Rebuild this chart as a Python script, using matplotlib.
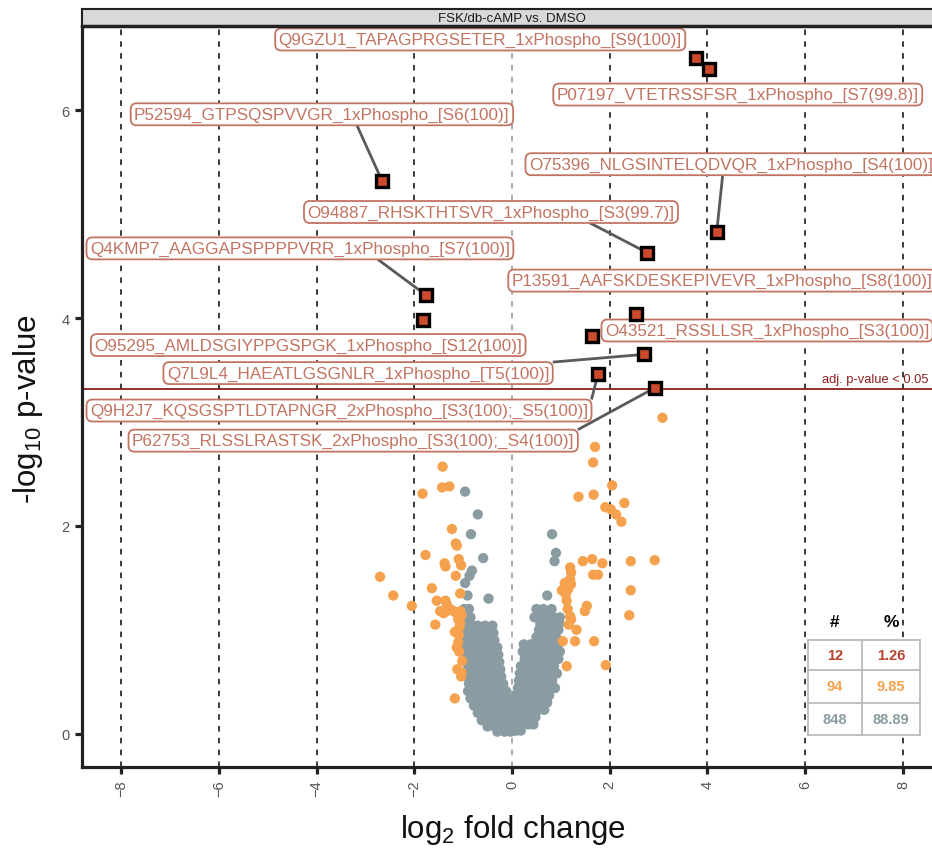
import matplotlib
matplotlib.use('Agg')
import matplotlib.pyplot as plt
import numpy as np

plt.rcParams['font.family'] = ['Liberation Sans', 'DejaVu Sans']
plt.rcParams['mathtext.fontset'] = 'custom'
plt.rcParams['mathtext.rm'] = 'Liberation Sans'
plt.rcParams['mathtext.default'] = 'regular'
plt.rcParams['lines.scale_dashes'] = False

# ---------------- data ----------------
panel_title = "FSK/db-cAMP vs. DMSO"
threshold = 3.32

sig_names = [
    "Q9GZU1_TAPAGPRGSETER_1xPhospho_[S9(100)]",
    "P07197_VTETRSSFSR_1xPhospho_[S7(99.8)]",
    "P52594_GTPSQSPVVGR_1xPhospho_[S6(100)]",
    "O75396_NLGSINTELQDVQR_1xPhospho_[S4(100)]",
    "O94887_RHSKTHTSVR_1xPhospho_[S3(99.7)]",
    "Q4KMP7_AAGGAPSPPPPVRR_1xPhospho_[S7(100)]",
    "P13591_AAFSKDESKEPIVEVR_1xPhospho_[S8(100)]",
    "O95295_AMLDSGIYPPGSPGK_1xPhospho_[S12(100)]",
    "O43521_RSSLLSR_1xPhospho_[S3(100)]",
    "Q7L9L4_HAEATLGSGNLR_1xPhospho_[T5(100)]",
    "Q9H2J7_KQSGSPTLDTAPNGR_2xPhospho_[S3(100);_S5(100)]",
    "P62753_RLSSLRASTSK_2xPhospho_[S3(100);_S4(100)]",
]
sig_x = [3.76, 4.03, -2.66, 4.19, 2.76, -1.76, 2.54, -1.82, 1.64, 2.70, 1.76, 2.93]
sig_y = [6.50, 6.40, 5.32, 4.83, 4.63, 4.22, 4.04, 3.98, 3.83, 3.65, 3.46, 3.33]
label_x = [-0.65, 4.62, -3.89, 4.48, -0.43, -4.34, 4.30, -4.17, 5.22, -3.15, -3.54, -3.25]
label_y = [6.68, 6.15, 5.96, 5.48, 5.02, 4.67, 4.36, 3.74, 3.88, 3.47, 3.11, 2.82]

orange_x = [3.08, 1.70, 1.66, -1.42, -1.43, -1.28, -1.83, 2.05, 1.36, 1.67,
            2.30, 1.91, 2.02, 2.13, 2.24, -1.23, -1.15, -1.13, -1.77, -1.09,
            -1.38, -1.36, -1.04, -1.15, -2.70, -1.64, -2.43, -1.06, -1.36, -2.05,
            -1.47, -1.34, -1.23, -1.17, -1.06, -1.03, -1.57, -1.10, -1.08, -1.09,
            -1.17, -1.13, -1.08, -1.03, -1.04, -1.17, -1.54, -1.33, -1.06, -1.40,
            -1.10, -1.02, -1.12,
            1.19, 1.21, 1.19, 1.21, 1.15, 1.10, 1.12, 1.14, 1.19, 1.21,
            1.45, 1.64, 1.85, 1.66, 1.76, 2.43, 2.92, 2.43, 1.53, 1.49,
            2.40, 1.32, 1.04, 1.29, 1.68, 1.12, 1.92, 1.02, 1.08, 1.16]
orange_y = [3.04, 2.76, 2.61, 2.57, 2.37, 2.38, 2.31, 2.39, 2.28, 2.30,
            2.22, 2.18, 2.16, 2.11, 2.04, 1.97, 1.83, 1.81, 1.72, 1.68,
            1.64, 1.61, 1.62, 1.52, 1.51, 1.40, 1.33, 1.35, 1.28, 1.23,
            1.18, 1.18, 1.19, 1.17, 1.18, 1.14, 1.05, 1.10, 1.02, 0.95,
            0.98, 0.83, 0.79, 0.59, 0.55, 0.34, 1.28, 1.24, 1.06, 1.16,
            0.88, 0.70, 0.62,
            1.60, 1.55, 1.49, 1.44, 1.39, 1.34, 1.28, 1.20, 1.13, 1.10,
            1.66, 1.68, 1.64, 1.53, 1.53, 1.66, 1.67, 1.38, 1.23, 1.18,
            1.14, 1.00, 0.89, 0.89, 0.89, 0.65, 0.66, 1.38, 1.45, 1.05]

# grey (not significant, small fold change): rows of (y, x values)
grey_rows = [
    (2.33, [-0.96]), (2.11, [-0.70]), (1.92, [-0.84, 0.82]), (1.74, [0.90]),
    (1.69, [-0.59]), (1.66, [0.87]), (1.57, [-0.82]), (1.52, [-0.87]),
    (1.45, [-0.96]), (1.33, [-0.91, 0.72]), (1.30, [-0.48]),
    (1.20, [-0.98, -0.88, 0.50, 0.64, 0.81]),
    (1.12, [-0.95, -0.85, 0.46, 0.58, 0.72, 0.86, 0.98]),
    (1.06, [0.58, 0.72, 0.86, 0.97]),
    (1.04, [-0.92, -0.80, -0.70, -0.55, -0.40]),
    (1.00, [0.55, 0.68, 0.82, 0.95]),
    (0.97, [-0.95, -0.82, -0.68, -0.52, -0.38]),
    (0.93, [0.50, 0.62, 0.76, 0.90]),
    (0.90, [-0.92, -0.78, -0.64, -0.50, -0.36]),
    (0.86, [0.24, 0.38, 0.52, 0.66, 0.80, 0.94]),
    (0.83, [-0.96, -0.84, -0.70, -0.56, -0.42, -0.30]),
    (0.79, [0.22, 0.34, 0.48, 0.62, 0.76, 0.90, 0.98]),
    (0.76, [-0.92, -0.78, -0.64, -0.50, -0.36, -0.28]),
    (0.72, [0.26, 0.40, 0.54, 0.68, 0.82, 0.95]),
    (0.69, [-0.95, -0.82, -0.68, -0.54, -0.40, -0.26]),
    (0.65, [0.18, 0.30, 0.44, 0.58, 0.72, 0.86]),
    (0.62, [-0.90, -0.76, -0.62, -0.48, -0.34, -0.24]),
    (0.58, [0.16, 0.28, 0.42, 0.56, 0.70, 0.84, 0.92]),
    (0.55, [-0.93, -0.80, -0.66, -0.52, -0.38, -0.22]),
    (0.51, [0.14, 0.26, 0.40, 0.54, 0.68, 0.82]),
    (0.48, [-0.88, -0.74, -0.60, -0.46, -0.32, -0.18]),
    (0.44, [0.12, 0.24, 0.36, 0.50, 0.64, 0.78, 0.88]),
    (0.41, [-0.90, -0.76, -0.62, -0.48, -0.34, -0.20, -0.12]),
    (0.37, [0.08, 0.20, 0.34, 0.48, 0.62, 0.76]),
    (0.34, [-0.85, -0.70, -0.56, -0.42, -0.28, -0.14, -0.08]),
    (0.30, [0.06, 0.18, 0.30, 0.44, 0.58, 0.72]),
    (0.27, [-0.78, -0.64, -0.50, -0.36, -0.22, -0.08]),
    (0.23, [0.04, 0.14, 0.26, 0.40, 0.54, 0.66]),
    (0.20, [-0.70, -0.56, -0.42, -0.28, -0.14, -0.05]),
    (0.16, [0.03, 0.12, 0.24, 0.36, 0.48]),
    (0.13, [-0.62, -0.48, -0.34, -0.20, -0.06]),
    (0.09, [0.02, 0.10, 0.22, 0.34, 0.44]),
    (0.07, [-0.50, -0.36, -0.22, -0.08]),
    (0.03, [0.01, 0.08, 0.18]),
    (0.02, [-0.30, -0.15, -0.03]),
]

table_counts = ["12", "94", "848"]
table_pct = ["1.26", "9.85", "88.89"]

x_ticks = [-8, -6, -4, -2, 0, 2, 4, 6, 8]
y_ticks = [0, 2, 4, 6]
vline_pos = [-8, -6, -4, -2, 0, 2, 4, 6, 8]

# ---------------- styles ----------------
col_sig = '#CC4A2C'
col_sig_txt = '#B4442E'
col_orange = '#F6A14D'
col_grey = '#8A9CA2'
col_label = '#C27462'
col_thr = '#8B1E1E'

grey_x = [x for (y, xs) in grey_rows for x in xs]
grey_y = [y for (y, xs) in grey_rows for x in xs]

fig = plt.figure(figsize=(9.32, 8.53), dpi=100)
W, H = 932, 853
ax = fig.add_axes([82 / W, 85 / H, 860 / W, 740 / H])
ax.set_xlim(-8.8, 8.8)
ax.set_ylim(-0.32, 6.80)

for v in vline_pos:
    c = '#AAAAAA' if v == 0 else '#3A3A3A'
    ln = ax.axvline(v, color=c, lw=1.4, zorder=0)
    ln.set_dashes([4, 4.5])

ax.axhline(threshold, color=col_thr, lw=1.3, zorder=1)
ax.text(8.53, threshold + 0.04, "adj. p-value < 0.05", ha='right', va='bottom',
        fontsize=9.3, color=col_thr, zorder=2)

ax.scatter(grey_x, grey_y, s=55, c=col_grey, edgecolors='none', zorder=3)
ax.scatter(orange_x, orange_y, s=55, c=col_orange, edgecolors='none', zorder=3)

texts = []
for name, lx, ly in zip(sig_names, label_x, label_y):
    t = ax.text(lx, ly, name, ha='center', va='center', fontsize=12.3,
                color=col_label, zorder=6,
                bbox=dict(boxstyle='round,pad=0.2,rounding_size=0.35', fc='white',
                          ec=col_label, lw=1.3))
    texts.append(t)

fig.canvas.draw()
renderer = fig.canvas.get_renderer()
inv = ax.transData.inverted()


def box_hit(px, py, bb):
    """connection point on the label box (display coords)"""
    inside_x = bb.x0 <= px <= bb.x1
    inside_y = bb.y0 <= py <= bb.y1
    if inside_x and not inside_y:
        cx, cy = (bb.x0 + bb.x1) / 2, (bb.y0 + bb.y1) / 2
        ey = bb.y0 if py < cy else bb.y1
        t = (ey - cy) / (py - cy)
        return (cx + t * (px - cx) + px) / 2, ey
    return min(max(px, bb.x0), bb.x1), min(max(py, bb.y0), bb.y1)


for t, sx, sy in zip(texts, sig_x, sig_y):
    bb = t.get_bbox_patch().get_window_extent(renderer)
    px, py = ax.transData.transform((sx, sy))
    nx = min(max(px, bb.x0), bb.x1)
    ny = min(max(py, bb.y0), bb.y1)
    if np.hypot(px - nx, py - ny) > 24:
        hx, hy = box_hit(px, py, bb)
        (x0, y0) = inv.transform((hx, hy))
        ax.plot([x0, sx], [y0, sy], color='#5A5A5A', lw=2.0, zorder=5,
                solid_capstyle='butt')

ax.plot(sig_x, sig_y, 's', ms=9, mfc=col_sig, mec='black', mew=2.4, zorder=7,
        linestyle='none')

# table
tx = [6.06, 7.16, 8.35]
ty = [0.904, 0.615, 0.298, -0.01]
ax.fill_between([tx[0], tx[-1]], ty[-1], ty[0], color='white', zorder=7.5)
for xv in tx:
    ax.plot([xv, xv], [ty[0], ty[-1]], color='#BBBBBB', lw=1.3, zorder=8)
for yv in ty:
    ax.plot([tx[0], tx[-1]], [yv, yv], color='#BBBBBB', lw=1.3, zorder=8)
ax.text((tx[0] + tx[1]) / 2, 1.08, "#", ha='center', va='center', fontsize=12.5,
        fontweight='bold', color='black', zorder=9)
ax.text((tx[1] + tx[2]) / 2, 1.08, "%", ha='center', va='center', fontsize=12.5,
        fontweight='bold', color='black', zorder=9)
row_cols = [col_sig_txt, col_orange, col_grey]
for i in range(3):
    yc = (ty[i] + ty[i + 1]) / 2
    ax.text((tx[0] + tx[1]) / 2, yc, table_counts[i], ha='center', va='center',
            fontsize=10.5, fontweight='bold', color=row_cols[i], zorder=9)
    ax.text((tx[1] + tx[2]) / 2, yc, table_pct[i], ha='center', va='center',
            fontsize=10.5, fontweight='bold', color=row_cols[i], zorder=9)

# axes styling
for s in ['top', 'right']:
    ax.spines[s].set_visible(False)
for s in ['left', 'bottom']:
    ax.spines[s].set_linewidth(2.3)
    ax.spines[s].set_color('#222222')
ax.set_xticks(x_ticks)
ax.set_yticks(y_ticks)
ax.set_xticklabels([f"{v}".replace('-', '\u2212') for v in x_ticks], rotation=90)
ax.tick_params(direction='out', length=5, width=2.3, color='#222222',
               labelcolor='#555555', labelsize=10.5, pad=4)

fig.text(513 / W, 1 - 830 / H, r'log$_2$ fold change', fontsize=22.5,
         color='#111111', ha='center', va='center')
fig.text(28 / W, 1 - 409 / H, r'-log$_{10}$ p-value', fontsize=22.5,
         color='#111111', ha='center', va='center', rotation=90)

# strip
sax = fig.add_axes([82 / W, (H - 27) / H, 860 / W, 17 / H])
sax.set_facecolor('#D9D9D9')
sax.set_xticks([])
sax.set_yticks([])
for s in sax.spines.values():
    s.set_linewidth(1.5)
    s.set_color('#222222')
sax.spines['bottom'].set_linewidth(2.5)
sax.text(0.5, 0.5, panel_title, ha='center', va='center', fontsize=9.5,
         color='#1A1A1A', transform=sax.transAxes)

fig.savefig('out.png', dpi=100)
